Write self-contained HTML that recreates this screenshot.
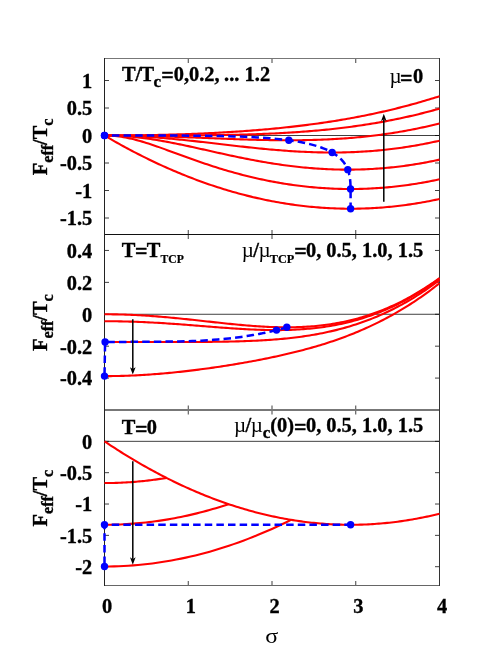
<!DOCTYPE html>
<html><head><meta charset="utf-8"><title>F_eff</title>
<style>html,body{margin:0;padding:0;background:#fff}svg{display:block;will-change:transform}text{font-family:"Liberation Serif",serif;fill:#000;font-kerning:none;font-variant-ligatures:none;white-space:pre}</style>
</head><body>
<svg width="491" height="659" viewBox="0 0 491 659">
<rect width="491" height="659" fill="#fff"/>
<line x1="104.50" y1="135.50" x2="439.50" y2="135.50" stroke="#000" stroke-width="0.75"/>
<line x1="104.50" y1="314.27" x2="439.50" y2="314.27" stroke="#000" stroke-width="0.75"/>
<line x1="104.50" y1="441.34" x2="439.50" y2="441.34" stroke="#000" stroke-width="0.75"/>
<path d="M188.25 58.50v4.50M188.25 234.50v-4.50M272.00 58.50v4.50M272.00 234.50v-4.50M355.75 58.50v4.50M355.75 234.50v-4.50M104.50 80.50h4.50M439.50 80.50h-4.50M104.50 108.00h4.50M439.50 108.00h-4.50M104.50 135.50h4.50M439.50 135.50h-4.50M104.50 163.00h4.50M439.50 163.00h-4.50M104.50 190.50h4.50M439.50 190.50h-4.50M104.50 218.00h4.50M439.50 218.00h-4.50M188.25 234.50v4.50M188.25 410.00v-4.50M272.00 234.50v4.50M272.00 410.00v-4.50M355.75 234.50v4.50M355.75 410.00v-4.50M104.50 250.45h4.50M439.50 250.45h-4.50M104.50 282.36h4.50M439.50 282.36h-4.50M104.50 314.27h4.50M439.50 314.27h-4.50M104.50 346.18h4.50M439.50 346.18h-4.50M104.50 378.09h4.50M439.50 378.09h-4.50M188.25 410.00v4.50M188.25 585.50v-4.50M272.00 410.00v4.50M272.00 585.50v-4.50M355.75 410.00v4.50M355.75 585.50v-4.50M104.50 441.34h4.50M439.50 441.34h-4.50M104.50 472.68h4.50M439.50 472.68h-4.50M104.50 504.02h4.50M439.50 504.02h-4.50M104.50 535.36h4.50M439.50 535.36h-4.50M104.50 566.70h4.50M439.50 566.70h-4.50" stroke="#000" stroke-width="0.75" fill="none"/>
<rect x="104" y="58" width="336" height="1" fill="#777"/>
<rect x="104" y="234" width="336" height="1" fill="#111"/>
<rect x="104" y="409" width="336" height="2" fill="#777"/>
<rect x="104" y="585" width="336" height="1" fill="#666"/>
<rect x="104" y="58" width="1" height="528" fill="#222"/>
<rect x="439" y="58" width="1" height="528" fill="#333"/>
<path d="M104.50 135.50 L106.59 136.73 L108.69 137.95 L110.78 139.17 L112.88 140.37 L114.97 141.56 L117.06 142.74 L119.16 143.91 L121.25 145.07 L123.34 146.22 L125.44 147.36 L127.53 148.49 L129.62 149.61 L131.72 150.71 L133.81 151.81 L135.91 152.90 L138.00 153.98 L140.09 155.04 L142.19 156.10 L144.28 157.15 L146.38 158.18 L148.47 159.21 L150.56 160.22 L152.66 161.23 L154.75 162.22 L156.84 163.20 L158.94 164.18 L161.03 165.14 L163.12 166.09 L165.22 167.04 L167.31 167.97 L169.41 168.89 L171.50 169.80 L173.59 170.70 L175.69 171.59 L177.78 172.47 L179.88 173.34 L181.97 174.20 L184.06 175.04 L186.16 175.88 L188.25 176.71 L190.34 177.53 L192.44 178.33 L194.53 179.13 L196.62 179.91 L198.72 180.69 L200.81 181.45 L202.91 182.21 L205.00 182.95 L207.09 183.68 L209.19 184.41 L211.28 185.12 L213.38 185.82 L215.47 186.51 L217.56 187.19 L219.66 187.86 L221.75 188.52 L223.84 189.17 L225.94 189.81 L228.03 190.43 L230.12 191.05 L232.22 191.66 L234.31 192.25 L236.41 192.84 L238.50 193.42 L240.59 193.98 L242.69 194.53 L244.78 195.08 L246.88 195.61 L248.97 196.13 L251.06 196.64 L253.16 197.15 L255.25 197.64 L257.34 198.12 L259.44 198.59 L261.53 199.04 L263.62 199.49 L265.72 199.93 L267.81 200.36 L269.91 200.77 L272.00 201.18 L274.09 201.57 L276.19 201.96 L278.28 202.33 L280.38 202.70 L282.47 203.05 L284.56 203.39 L286.66 203.72 L288.75 204.04 L290.84 204.35 L292.94 204.65 L295.03 204.94 L297.12 205.22 L299.22 205.49 L301.31 205.75 L303.41 205.99 L305.50 206.23 L307.59 206.45 L309.69 206.67 L311.78 206.87 L313.88 207.06 L315.97 207.25 L318.06 207.42 L320.16 207.58 L322.25 207.73 L324.34 207.87 L326.44 208.00 L328.53 208.12 L330.62 208.22 L332.72 208.32 L334.81 208.41 L336.91 208.48 L339.00 208.55 L341.09 208.60 L343.19 208.64 L345.28 208.68 L347.38 208.70 L349.47 208.71 L351.56 208.71 L353.66 208.70 L355.75 208.68 L357.84 208.65 L359.94 208.61 L362.03 208.55 L364.12 208.49 L366.22 208.41 L368.31 208.33 L370.41 208.23 L372.50 208.12 L374.59 208.01 L376.69 207.88 L378.78 207.74 L380.88 207.59 L382.97 207.43 L385.06 207.26 L387.16 207.07 L389.25 206.88 L391.34 206.68 L393.44 206.46 L395.53 206.24 L397.62 206.00 L399.72 205.75 L401.81 205.49 L403.91 205.23 L406.00 204.95 L408.09 204.66 L410.19 204.35 L412.28 204.04 L414.38 203.72 L416.47 203.39 L418.56 203.04 L420.66 202.69 L422.75 202.32 L424.84 201.94 L426.94 201.55 L429.03 201.16 L431.13 200.75 L433.22 200.33 L435.31 199.89 L437.41 199.45 L439.50 199.00" fill="none" stroke="#f00" stroke-width="2.10" stroke-linejoin="round"/>
<path d="M104.50 135.50 L106.59 135.52 L108.69 135.58 L110.78 135.69 L112.88 135.83 L114.97 136.01 L117.06 136.24 L119.16 136.50 L121.25 136.80 L123.34 137.13 L125.44 137.51 L127.53 137.92 L129.62 138.36 L131.72 138.83 L133.81 139.33 L135.91 139.86 L138.00 140.42 L140.09 141.01 L142.19 141.62 L144.28 142.25 L146.38 142.90 L148.47 143.57 L150.56 144.25 L152.66 144.95 L154.75 145.66 L156.84 146.39 L158.94 147.12 L161.03 147.87 L163.12 148.62 L165.22 149.38 L167.31 150.14 L169.41 150.90 L171.50 151.67 L173.59 152.44 L175.69 153.21 L177.78 153.98 L179.88 154.75 L181.97 155.51 L184.06 156.28 L186.16 157.04 L188.25 157.79 L190.34 158.55 L192.44 159.29 L194.53 160.03 L196.62 160.77 L198.72 161.50 L200.81 162.22 L202.91 162.94 L205.00 163.64 L207.09 164.34 L209.19 165.04 L211.28 165.72 L213.38 166.40 L215.47 167.07 L217.56 167.73 L219.66 168.38 L221.75 169.02 L223.84 169.65 L225.94 170.27 L228.03 170.89 L230.12 171.49 L232.22 172.09 L234.31 172.67 L236.41 173.25 L238.50 173.81 L240.59 174.37 L242.69 174.92 L244.78 175.45 L246.88 175.98 L248.97 176.50 L251.06 177.00 L253.16 177.50 L255.25 177.98 L257.34 178.46 L259.44 178.92 L261.53 179.38 L263.62 179.82 L265.72 180.26 L267.81 180.68 L269.91 181.10 L272.00 181.50 L274.09 181.89 L276.19 182.28 L278.28 182.65 L280.38 183.01 L282.47 183.36 L284.56 183.70 L286.66 184.03 L288.75 184.35 L290.84 184.66 L292.94 184.96 L295.03 185.25 L297.12 185.52 L299.22 185.79 L301.31 186.05 L303.41 186.29 L305.50 186.53 L307.59 186.75 L309.69 186.97 L311.78 187.17 L313.88 187.36 L315.97 187.54 L318.06 187.71 L320.16 187.88 L322.25 188.03 L324.34 188.16 L326.44 188.29 L328.53 188.41 L330.62 188.52 L332.72 188.62 L334.81 188.70 L336.91 188.78 L339.00 188.84 L341.09 188.89 L343.19 188.94 L345.28 188.97 L347.38 188.99 L349.47 189.00 L351.56 189.00 L353.66 188.99 L355.75 188.97 L357.84 188.94 L359.94 188.90 L362.03 188.84 L364.12 188.78 L366.22 188.70 L368.31 188.62 L370.41 188.52 L372.50 188.42 L374.59 188.30 L376.69 188.17 L378.78 188.03 L380.88 187.88 L382.97 187.72 L385.06 187.55 L387.16 187.36 L389.25 187.17 L391.34 186.97 L393.44 186.75 L395.53 186.53 L397.62 186.29 L399.72 186.04 L401.81 185.79 L403.91 185.52 L406.00 185.24 L408.09 184.95 L410.19 184.65 L412.28 184.33 L414.38 184.01 L416.47 183.68 L418.56 183.33 L420.66 182.98 L422.75 182.61 L424.84 182.23 L426.94 181.85 L429.03 181.45 L431.13 181.04 L433.22 180.62 L435.31 180.19 L437.41 179.74 L439.50 179.29" fill="none" stroke="#f00" stroke-width="2.10" stroke-linejoin="round"/>
<path d="M104.50 135.50 L106.59 135.51 L108.69 135.53 L110.78 135.57 L112.88 135.62 L114.97 135.69 L117.06 135.78 L119.16 135.88 L121.25 135.99 L123.34 136.12 L125.44 136.27 L127.53 136.43 L129.62 136.60 L131.72 136.79 L133.81 136.99 L135.91 137.21 L138.00 137.43 L140.09 137.68 L142.19 137.93 L144.28 138.20 L146.38 138.48 L148.47 138.78 L150.56 139.08 L152.66 139.40 L154.75 139.72 L156.84 140.06 L158.94 140.41 L161.03 140.77 L163.12 141.14 L165.22 141.52 L167.31 141.90 L169.41 142.30 L171.50 142.70 L173.59 143.11 L175.69 143.52 L177.78 143.95 L179.88 144.38 L181.97 144.81 L184.06 145.25 L186.16 145.70 L188.25 146.15 L190.34 146.60 L192.44 147.06 L194.53 147.52 L196.62 147.98 L198.72 148.44 L200.81 148.91 L202.91 149.38 L205.00 149.85 L207.09 150.32 L209.19 150.78 L211.28 151.25 L213.38 151.72 L215.47 152.19 L217.56 152.66 L219.66 153.12 L221.75 153.58 L223.84 154.04 L225.94 154.50 L228.03 154.95 L230.12 155.41 L232.22 155.85 L234.31 156.30 L236.41 156.74 L238.50 157.17 L240.59 157.60 L242.69 158.03 L244.78 158.45 L246.88 158.87 L248.97 159.28 L251.06 159.68 L253.16 160.08 L255.25 160.47 L257.34 160.85 L259.44 161.23 L261.53 161.61 L263.62 161.97 L265.72 162.33 L267.81 162.68 L269.91 163.03 L272.00 163.36 L274.09 163.69 L276.19 164.01 L278.28 164.32 L280.38 164.63 L282.47 164.93 L284.56 165.21 L286.66 165.49 L288.75 165.77 L290.84 166.03 L292.94 166.28 L295.03 166.53 L297.12 166.77 L299.22 167.00 L301.31 167.22 L303.41 167.43 L305.50 167.63 L307.59 167.82 L309.69 168.00 L311.78 168.17 L313.88 168.34 L315.97 168.49 L318.06 168.64 L320.16 168.77 L322.25 168.90 L324.34 169.01 L326.44 169.12 L328.53 169.22 L330.62 169.30 L332.72 169.38 L334.81 169.45 L336.91 169.51 L339.00 169.55 L341.09 169.59 L343.19 169.62 L345.28 169.63 L347.38 169.64 L349.47 169.64 L351.56 169.63 L353.66 169.60 L355.75 169.57 L357.84 169.52 L359.94 169.47 L362.03 169.41 L364.12 169.33 L366.22 169.25 L368.31 169.15 L370.41 169.05 L372.50 168.93 L374.59 168.80 L376.69 168.67 L378.78 168.52 L380.88 168.36 L382.97 168.19 L385.06 168.01 L387.16 167.82 L389.25 167.62 L391.34 167.41 L393.44 167.19 L395.53 166.96 L397.62 166.72 L399.72 166.47 L401.81 166.20 L403.91 165.93 L406.00 165.65 L408.09 165.35 L410.19 165.05 L412.28 164.73 L414.38 164.40 L416.47 164.07 L418.56 163.72 L420.66 163.36 L422.75 162.99 L424.84 162.61 L426.94 162.22 L429.03 161.82 L431.13 161.40 L433.22 160.98 L435.31 160.55 L437.41 160.10 L439.50 159.65" fill="none" stroke="#f00" stroke-width="2.10" stroke-linejoin="round"/>
<path d="M104.50 135.50 L106.59 135.50 L108.69 135.51 L110.78 135.53 L112.88 135.55 L114.97 135.59 L117.06 135.62 L119.16 135.67 L121.25 135.72 L123.34 135.78 L125.44 135.84 L127.53 135.91 L129.62 135.99 L131.72 136.07 L133.81 136.17 L135.91 136.26 L138.00 136.37 L140.09 136.48 L142.19 136.59 L144.28 136.71 L146.38 136.84 L148.47 136.97 L150.56 137.11 L152.66 137.26 L154.75 137.41 L156.84 137.57 L158.94 137.73 L161.03 137.89 L163.12 138.07 L165.22 138.24 L167.31 138.42 L169.41 138.61 L171.50 138.80 L173.59 138.99 L175.69 139.19 L177.78 139.40 L179.88 139.60 L181.97 139.81 L184.06 140.03 L186.16 140.24 L188.25 140.46 L190.34 140.69 L192.44 140.91 L194.53 141.14 L196.62 141.37 L198.72 141.60 L200.81 141.84 L202.91 142.08 L205.00 142.31 L207.09 142.55 L209.19 142.80 L211.28 143.04 L213.38 143.28 L215.47 143.52 L217.56 143.77 L219.66 144.01 L221.75 144.26 L223.84 144.50 L225.94 144.75 L228.03 144.99 L230.12 145.23 L232.22 145.47 L234.31 145.71 L236.41 145.95 L238.50 146.19 L240.59 146.42 L242.69 146.66 L244.78 146.89 L246.88 147.12 L248.97 147.35 L251.06 147.57 L253.16 147.79 L255.25 148.01 L257.34 148.22 L259.44 148.43 L261.53 148.64 L263.62 148.85 L265.72 149.05 L267.81 149.24 L269.91 149.43 L272.00 149.62 L274.09 149.80 L276.19 149.98 L278.28 150.16 L280.38 150.32 L282.47 150.49 L284.56 150.64 L286.66 150.80 L288.75 150.94 L290.84 151.08 L292.94 151.22 L295.03 151.35 L297.12 151.47 L299.22 151.59 L301.31 151.70 L303.41 151.80 L305.50 151.90 L307.59 151.99 L309.69 152.07 L311.78 152.15 L313.88 152.22 L315.97 152.28 L318.06 152.34 L320.16 152.38 L322.25 152.42 L324.34 152.46 L326.44 152.48 L328.53 152.50 L330.62 152.51 L332.72 152.51 L334.81 152.50 L336.91 152.49 L339.00 152.47 L341.09 152.44 L343.19 152.40 L345.28 152.35 L347.38 152.29 L349.47 152.23 L351.56 152.16 L353.66 152.08 L355.75 151.99 L357.84 151.89 L359.94 151.78 L362.03 151.66 L364.12 151.54 L366.22 151.40 L368.31 151.26 L370.41 151.11 L372.50 150.94 L374.59 150.77 L376.69 150.59 L378.78 150.40 L380.88 150.20 L382.97 150.00 L385.06 149.78 L387.16 149.55 L389.25 149.31 L391.34 149.07 L393.44 148.81 L395.53 148.55 L397.62 148.27 L399.72 147.99 L401.81 147.69 L403.91 147.39 L406.00 147.07 L408.09 146.75 L410.19 146.41 L412.28 146.07 L414.38 145.72 L416.47 145.35 L418.56 144.98 L420.66 144.59 L422.75 144.20 L424.84 143.80 L426.94 143.38 L429.03 142.96 L431.13 142.53 L433.22 142.08 L435.31 141.63 L437.41 141.16 L439.50 140.69" fill="none" stroke="#f00" stroke-width="2.10" stroke-linejoin="round"/>
<path d="M104.50 135.50 L106.59 135.50 L108.69 135.51 L110.78 135.51 L112.88 135.52 L114.97 135.53 L117.06 135.55 L119.16 135.56 L121.25 135.58 L123.34 135.60 L125.44 135.63 L127.53 135.65 L129.62 135.68 L131.72 135.72 L133.81 135.75 L135.91 135.79 L138.00 135.82 L140.09 135.86 L142.19 135.91 L144.28 135.95 L146.38 136.00 L148.47 136.05 L150.56 136.10 L152.66 136.16 L154.75 136.21 L156.84 136.27 L158.94 136.33 L161.03 136.39 L163.12 136.45 L165.22 136.52 L167.31 136.59 L169.41 136.65 L171.50 136.72 L173.59 136.80 L175.69 136.87 L177.78 136.94 L179.88 137.02 L181.97 137.09 L184.06 137.17 L186.16 137.25 L188.25 137.33 L190.34 137.41 L192.44 137.49 L194.53 137.57 L196.62 137.65 L198.72 137.74 L200.81 137.82 L202.91 137.90 L205.00 137.98 L207.09 138.07 L209.19 138.15 L211.28 138.24 L213.38 138.32 L215.47 138.40 L217.56 138.48 L219.66 138.57 L221.75 138.65 L223.84 138.73 L225.94 138.81 L228.03 138.89 L230.12 138.96 L232.22 139.04 L234.31 139.12 L236.41 139.19 L238.50 139.26 L240.59 139.33 L242.69 139.40 L244.78 139.47 L246.88 139.54 L248.97 139.60 L251.06 139.66 L253.16 139.72 L255.25 139.78 L257.34 139.83 L259.44 139.88 L261.53 139.93 L263.62 139.98 L265.72 140.02 L267.81 140.06 L269.91 140.09 L272.00 140.13 L274.09 140.16 L276.19 140.18 L278.28 140.20 L280.38 140.22 L282.47 140.24 L284.56 140.25 L286.66 140.25 L288.75 140.26 L290.84 140.26 L292.94 140.25 L295.03 140.24 L297.12 140.22 L299.22 140.20 L301.31 140.18 L303.41 140.15 L305.50 140.11 L307.59 140.07 L309.69 140.02 L311.78 139.97 L313.88 139.92 L315.97 139.85 L318.06 139.79 L320.16 139.71 L322.25 139.63 L324.34 139.55 L326.44 139.46 L328.53 139.36 L330.62 139.26 L332.72 139.15 L334.81 139.03 L336.91 138.91 L339.00 138.78 L341.09 138.64 L343.19 138.50 L345.28 138.35 L347.38 138.19 L349.47 138.03 L351.56 137.86 L353.66 137.68 L355.75 137.49 L357.84 137.30 L359.94 137.10 L362.03 136.90 L364.12 136.68 L366.22 136.46 L368.31 136.23 L370.41 135.99 L372.50 135.75 L374.59 135.49 L376.69 135.23 L378.78 134.96 L380.88 134.69 L382.97 134.40 L385.06 134.11 L387.16 133.81 L389.25 133.50 L391.34 133.18 L393.44 132.86 L395.53 132.52 L397.62 132.18 L399.72 131.83 L401.81 131.47 L403.91 131.10 L406.00 130.72 L408.09 130.34 L410.19 129.94 L412.28 129.54 L414.38 129.12 L416.47 128.70 L418.56 128.27 L420.66 127.83 L422.75 127.39 L424.84 126.93 L426.94 126.46 L429.03 125.99 L431.13 125.50 L433.22 125.01 L435.31 124.50 L437.41 123.99 L439.50 123.47" fill="none" stroke="#f00" stroke-width="2.10" stroke-linejoin="round"/>
<path d="M104.50 135.50 L106.59 135.50 L108.69 135.50 L110.78 135.50 L112.88 135.50 L114.97 135.50 L117.06 135.50 L119.16 135.50 L121.25 135.50 L123.34 135.50 L125.44 135.50 L127.53 135.50 L129.62 135.50 L131.72 135.50 L133.81 135.50 L135.91 135.50 L138.00 135.50 L140.09 135.50 L142.19 135.49 L144.28 135.49 L146.38 135.49 L148.47 135.49 L150.56 135.49 L152.66 135.49 L154.75 135.48 L156.84 135.48 L158.94 135.48 L161.03 135.47 L163.12 135.47 L165.22 135.47 L167.31 135.46 L169.41 135.45 L171.50 135.45 L173.59 135.44 L175.69 135.43 L177.78 135.43 L179.88 135.42 L181.97 135.41 L184.06 135.40 L186.16 135.39 L188.25 135.38 L190.34 135.36 L192.44 135.35 L194.53 135.33 L196.62 135.32 L198.72 135.30 L200.81 135.28 L202.91 135.26 L205.00 135.24 L207.09 135.22 L209.19 135.20 L211.28 135.17 L213.38 135.14 L215.47 135.12 L217.56 135.09 L219.66 135.05 L221.75 135.02 L223.84 134.99 L225.94 134.95 L228.03 134.91 L230.12 134.87 L232.22 134.83 L234.31 134.78 L236.41 134.74 L238.50 134.69 L240.59 134.64 L242.69 134.58 L244.78 134.52 L246.88 134.47 L248.97 134.40 L251.06 134.34 L253.16 134.27 L255.25 134.20 L257.34 134.13 L259.44 134.06 L261.53 133.98 L263.62 133.90 L265.72 133.81 L267.81 133.72 L269.91 133.63 L272.00 133.54 L274.09 133.44 L276.19 133.34 L278.28 133.23 L280.38 133.12 L282.47 133.01 L284.56 132.89 L286.66 132.77 L288.75 132.65 L290.84 132.52 L292.94 132.39 L295.03 132.25 L297.12 132.11 L299.22 131.96 L301.31 131.81 L303.41 131.66 L305.50 131.50 L307.59 131.34 L309.69 131.17 L311.78 130.99 L313.88 130.82 L315.97 130.63 L318.06 130.44 L320.16 130.25 L322.25 130.05 L324.34 129.85 L326.44 129.64 L328.53 129.43 L330.62 129.21 L332.72 128.98 L334.81 128.75 L336.91 128.51 L339.00 128.27 L341.09 128.02 L343.19 127.77 L345.28 127.51 L347.38 127.24 L349.47 126.97 L351.56 126.69 L353.66 126.41 L355.75 126.12 L357.84 125.82 L359.94 125.52 L362.03 125.21 L364.12 124.89 L366.22 124.57 L368.31 124.24 L370.41 123.90 L372.50 123.56 L374.59 123.21 L376.69 122.85 L378.78 122.48 L380.88 122.11 L382.97 121.73 L385.06 121.35 L387.16 120.96 L389.25 120.55 L391.34 120.15 L393.44 119.73 L395.53 119.31 L397.62 118.88 L399.72 118.44 L401.81 118.00 L403.91 117.55 L406.00 117.08 L408.09 116.62 L410.19 116.14 L412.28 115.66 L414.38 115.17 L416.47 114.67 L418.56 114.16 L420.66 113.64 L422.75 113.12 L424.84 112.59 L426.94 112.05 L429.03 111.50 L431.13 110.94 L433.22 110.37 L435.31 109.80 L437.41 109.22 L439.50 108.63" fill="none" stroke="#f00" stroke-width="2.10" stroke-linejoin="round"/>
<path d="M104.50 135.50 L106.59 135.50 L108.69 135.50 L110.78 135.49 L112.88 135.49 L114.97 135.48 L117.06 135.47 L119.16 135.46 L121.25 135.44 L123.34 135.43 L125.44 135.41 L127.53 135.40 L129.62 135.38 L131.72 135.35 L133.81 135.33 L135.91 135.31 L138.00 135.28 L140.09 135.25 L142.19 135.22 L144.28 135.19 L146.38 135.15 L148.47 135.12 L150.56 135.08 L152.66 135.04 L154.75 135.00 L156.84 134.95 L158.94 134.91 L161.03 134.86 L163.12 134.81 L165.22 134.76 L167.31 134.70 L169.41 134.65 L171.50 134.59 L173.59 134.53 L175.69 134.47 L177.78 134.40 L179.88 134.34 L181.97 134.27 L184.06 134.20 L186.16 134.12 L188.25 134.05 L190.34 133.97 L192.44 133.89 L194.53 133.81 L196.62 133.73 L198.72 133.64 L200.81 133.55 L202.91 133.46 L205.00 133.36 L207.09 133.27 L209.19 133.17 L211.28 133.07 L213.38 132.96 L215.47 132.85 L217.56 132.74 L219.66 132.63 L221.75 132.52 L223.84 132.40 L225.94 132.28 L228.03 132.15 L230.12 132.02 L232.22 131.89 L234.31 131.76 L236.41 131.63 L238.50 131.49 L240.59 131.34 L242.69 131.20 L244.78 131.05 L246.88 130.90 L248.97 130.74 L251.06 130.58 L253.16 130.42 L255.25 130.26 L257.34 130.09 L259.44 129.91 L261.53 129.74 L263.62 129.56 L265.72 129.38 L267.81 129.19 L269.91 129.00 L272.00 128.80 L274.09 128.60 L276.19 128.40 L278.28 128.19 L280.38 127.98 L282.47 127.77 L284.56 127.55 L286.66 127.33 L288.75 127.10 L290.84 126.87 L292.94 126.63 L295.03 126.39 L297.12 126.15 L299.22 125.90 L301.31 125.65 L303.41 125.39 L305.50 125.12 L307.59 124.86 L309.69 124.58 L311.78 124.31 L313.88 124.02 L315.97 123.74 L318.06 123.45 L320.16 123.15 L322.25 122.85 L324.34 122.54 L326.44 122.23 L328.53 121.91 L330.62 121.59 L332.72 121.26 L334.81 120.92 L336.91 120.59 L339.00 120.24 L341.09 119.89 L343.19 119.53 L345.28 119.17 L347.38 118.81 L349.47 118.43 L351.56 118.05 L353.66 117.67 L355.75 117.28 L357.84 116.88 L359.94 116.48 L362.03 116.07 L364.12 115.66 L366.22 115.24 L368.31 114.81 L370.41 114.37 L372.50 113.93 L374.59 113.49 L376.69 113.04 L378.78 112.58 L380.88 112.11 L382.97 111.64 L385.06 111.16 L387.16 110.67 L389.25 110.18 L391.34 109.68 L393.44 109.18 L395.53 108.66 L397.62 108.14 L399.72 107.62 L401.81 107.08 L403.91 106.54 L406.00 105.99 L408.09 105.44 L410.19 104.87 L412.28 104.30 L414.38 103.73 L416.47 103.14 L418.56 102.55 L420.66 101.95 L422.75 101.34 L424.84 100.73 L426.94 100.11 L429.03 99.48 L431.13 98.84 L433.22 98.20 L435.31 97.54 L437.41 96.88 L439.50 96.21" fill="none" stroke="#f00" stroke-width="2.10" stroke-linejoin="round"/>
<path d="M104.50 314.27 L106.59 314.28 L108.69 314.29 L110.78 314.31 L112.88 314.33 L114.97 314.36 L117.06 314.40 L119.16 314.45 L121.25 314.50 L123.34 314.56 L125.44 314.63 L127.53 314.70 L129.62 314.79 L131.72 314.87 L133.81 314.97 L135.91 315.07 L138.00 315.18 L140.09 315.29 L142.19 315.41 L144.28 315.54 L146.38 315.67 L148.47 315.81 L150.56 315.96 L152.66 316.11 L154.75 316.26 L156.84 316.42 L158.94 316.59 L161.03 316.76 L163.12 316.94 L165.22 317.12 L167.31 317.30 L169.41 317.50 L171.50 317.69 L173.59 317.89 L175.69 318.09 L177.78 318.30 L179.88 318.51 L181.97 318.72 L184.06 318.93 L186.16 319.15 L188.25 319.37 L190.34 319.59 L192.44 319.82 L194.53 320.05 L196.62 320.27 L198.72 320.50 L200.81 320.73 L202.91 320.97 L205.00 321.20 L207.09 321.43 L209.19 321.66 L211.28 321.89 L213.38 322.12 L215.47 322.35 L217.56 322.58 L219.66 322.81 L221.75 323.03 L223.84 323.25 L225.94 323.47 L228.03 323.69 L230.12 323.90 L232.22 324.11 L234.31 324.32 L236.41 324.52 L238.50 324.72 L240.59 324.92 L242.69 325.10 L244.78 325.29 L246.88 325.47 L248.97 325.64 L251.06 325.80 L253.16 325.96 L255.25 326.11 L257.34 326.26 L259.44 326.39 L261.53 326.52 L263.62 326.64 L265.72 326.75 L267.81 326.86 L269.91 326.95 L272.00 327.03 L274.09 327.11 L276.19 327.17 L278.28 327.22 L280.38 327.26 L282.47 327.29 L284.56 327.31 L286.66 327.32 L288.75 327.32 L290.84 327.30 L292.94 327.27 L295.03 327.22 L297.12 327.17 L299.22 327.10 L301.31 327.01 L303.41 326.91 L305.50 326.80 L307.59 326.67 L309.69 326.53 L311.78 326.37 L313.88 326.19 L315.97 326.00 L318.06 325.79 L320.16 325.57 L322.25 325.33 L324.34 325.07 L326.44 324.80 L328.53 324.50 L330.62 324.19 L332.72 323.86 L334.81 323.51 L336.91 323.15 L339.00 322.76 L341.09 322.36 L343.19 321.93 L345.28 321.49 L347.38 321.03 L349.47 320.54 L351.56 320.04 L353.66 319.51 L355.75 318.97 L357.84 318.40 L359.94 317.82 L362.03 317.21 L364.12 316.58 L366.22 315.92 L368.31 315.25 L370.41 314.55 L372.50 313.83 L374.59 313.09 L376.69 312.33 L378.78 311.54 L380.88 310.73 L382.97 309.90 L385.06 309.04 L387.16 308.16 L389.25 307.25 L391.34 306.32 L393.44 305.37 L395.53 304.39 L397.62 303.39 L399.72 302.37 L401.81 301.32 L403.91 300.24 L406.00 299.14 L408.09 298.01 L410.19 296.86 L412.28 295.68 L414.38 294.48 L416.47 293.25 L418.56 292.00 L420.66 290.72 L422.75 289.41 L424.84 288.08 L426.94 286.72 L429.03 285.34 L431.13 283.93 L433.22 282.49 L435.31 281.02 L437.41 279.53 L439.50 278.01" fill="none" stroke="#f00" stroke-width="2.10" stroke-linejoin="round"/>
<path d="M104.50 321.23 L106.59 321.23 L108.69 321.24 L110.78 321.25 L112.88 321.27 L114.97 321.29 L117.06 321.32 L119.16 321.36 L121.25 321.40 L123.34 321.44 L125.44 321.49 L127.53 321.54 L129.62 321.60 L131.72 321.67 L133.81 321.74 L135.91 321.81 L138.00 321.89 L140.09 321.97 L142.19 322.06 L144.28 322.15 L146.38 322.25 L148.47 322.35 L150.56 322.46 L152.66 322.57 L154.75 322.68 L156.84 322.80 L158.94 322.92 L161.03 323.05 L163.12 323.17 L165.22 323.31 L167.31 323.44 L169.41 323.58 L171.50 323.72 L173.59 323.87 L175.69 324.02 L177.78 324.17 L179.88 324.32 L181.97 324.48 L184.06 324.63 L186.16 324.79 L188.25 324.95 L190.34 325.11 L192.44 325.28 L194.53 325.44 L196.62 325.61 L198.72 325.77 L200.81 325.94 L202.91 326.11 L205.00 326.28 L207.09 326.44 L209.19 326.61 L211.28 326.77 L213.38 326.94 L215.47 327.10 L217.56 327.27 L219.66 327.43 L221.75 327.58 L223.84 327.74 L225.94 327.89 L228.03 328.05 L230.12 328.19 L232.22 328.34 L234.31 328.48 L236.41 328.62 L238.50 328.75 L240.59 328.88 L242.69 329.00 L244.78 329.12 L246.88 329.24 L248.97 329.34 L251.06 329.45 L253.16 329.54 L255.25 329.63 L257.34 329.71 L259.44 329.79 L261.53 329.86 L263.62 329.92 L265.72 329.97 L267.81 330.01 L269.91 330.04 L272.00 330.07 L274.09 330.09 L276.19 330.09 L278.28 330.09 L280.38 330.08 L282.47 330.05 L284.56 330.02 L286.66 329.97 L288.75 329.91 L290.84 329.84 L292.94 329.76 L295.03 329.67 L297.12 329.56 L299.22 329.44 L301.31 329.31 L303.41 329.16 L305.50 329.00 L307.59 328.82 L309.69 328.64 L311.78 328.43 L313.88 328.21 L315.97 327.98 L318.06 327.73 L320.16 327.46 L322.25 327.18 L324.34 326.88 L326.44 326.57 L328.53 326.23 L330.62 325.88 L332.72 325.52 L334.81 325.13 L336.91 324.73 L339.00 324.31 L341.09 323.87 L343.19 323.41 L345.28 322.93 L347.38 322.44 L349.47 321.92 L351.56 321.38 L353.66 320.83 L355.75 320.25 L357.84 319.66 L359.94 319.04 L362.03 318.40 L364.12 317.74 L366.22 317.06 L368.31 316.36 L370.41 315.64 L372.50 314.90 L374.59 314.13 L376.69 313.34 L378.78 312.53 L380.88 311.69 L382.97 310.84 L385.06 309.96 L387.16 309.05 L389.25 308.13 L391.34 307.18 L393.44 306.21 L395.53 305.21 L397.62 304.19 L399.72 303.14 L401.81 302.07 L403.91 300.98 L406.00 299.86 L408.09 298.71 L410.19 297.55 L412.28 296.35 L414.38 295.13 L416.47 293.89 L418.56 292.62 L420.66 291.32 L422.75 290.00 L424.84 288.66 L426.94 287.28 L429.03 285.88 L431.13 284.46 L433.22 283.01 L435.31 281.53 L437.41 280.02 L439.50 278.49" fill="none" stroke="#f00" stroke-width="2.10" stroke-linejoin="round"/>
<path d="M104.50 342.02 L106.59 342.02 L108.69 342.02 L110.78 342.02 L112.88 342.02 L114.97 342.02 L117.06 342.02 L119.16 342.02 L121.25 342.02 L123.34 342.02 L125.44 342.02 L127.53 342.02 L129.62 342.02 L131.72 342.02 L133.81 342.02 L135.91 342.02 L138.00 342.02 L140.09 342.02 L142.19 342.02 L144.28 342.02 L146.38 342.02 L148.47 342.02 L150.56 342.02 L152.66 342.02 L154.75 342.02 L156.84 342.02 L158.94 342.02 L161.03 342.02 L163.12 342.02 L165.22 342.02 L167.31 342.02 L169.41 342.01 L171.50 342.01 L173.59 342.01 L175.69 342.01 L177.78 342.00 L179.88 342.00 L181.97 341.99 L184.06 341.99 L186.16 341.98 L188.25 341.98 L190.34 341.97 L192.44 341.96 L194.53 341.95 L196.62 341.94 L198.72 341.93 L200.81 341.92 L202.91 341.90 L205.00 341.89 L207.09 341.87 L209.19 341.85 L211.28 341.83 L213.38 341.81 L215.47 341.78 L217.56 341.76 L219.66 341.73 L221.75 341.70 L223.84 341.66 L225.94 341.63 L228.03 341.59 L230.12 341.54 L232.22 341.50 L234.31 341.45 L236.41 341.39 L238.50 341.33 L240.59 341.27 L242.69 341.21 L244.78 341.14 L246.88 341.06 L248.97 340.98 L251.06 340.89 L253.16 340.80 L255.25 340.71 L257.34 340.61 L259.44 340.50 L261.53 340.38 L263.62 340.26 L265.72 340.13 L267.81 340.00 L269.91 339.86 L272.00 339.71 L274.09 339.55 L276.19 339.39 L278.28 339.21 L280.38 339.03 L282.47 338.84 L284.56 338.64 L286.66 338.43 L288.75 338.21 L290.84 337.98 L292.94 337.74 L295.03 337.49 L297.12 337.23 L299.22 336.96 L301.31 336.68 L303.41 336.38 L305.50 336.07 L307.59 335.76 L309.69 335.42 L311.78 335.08 L313.88 334.72 L315.97 334.35 L318.06 333.97 L320.16 333.57 L322.25 333.16 L324.34 332.74 L326.44 332.29 L328.53 331.84 L330.62 331.37 L332.72 330.88 L334.81 330.38 L336.91 329.86 L339.00 329.33 L341.09 328.78 L343.19 328.21 L345.28 327.63 L347.38 327.03 L349.47 326.41 L351.56 325.77 L353.66 325.12 L355.75 324.44 L357.84 323.75 L359.94 323.04 L362.03 322.31 L364.12 321.56 L366.22 320.80 L368.31 320.01 L370.41 319.20 L372.50 318.37 L374.59 317.53 L376.69 316.66 L378.78 315.77 L380.88 314.86 L382.97 313.93 L385.06 312.97 L387.16 312.00 L389.25 311.00 L391.34 309.98 L393.44 308.94 L395.53 307.88 L397.62 306.80 L399.72 305.69 L401.81 304.56 L403.91 303.40 L406.00 302.22 L408.09 301.02 L410.19 299.80 L412.28 298.55 L414.38 297.28 L416.47 295.98 L418.56 294.66 L420.66 293.32 L422.75 291.95 L424.84 290.55 L426.94 289.13 L429.03 287.69 L431.13 286.22 L433.22 284.72 L435.31 283.20 L437.41 281.65 L439.50 280.08" fill="none" stroke="#f00" stroke-width="2.10" stroke-linejoin="round"/>
<path d="M104.50 376.12 L106.59 376.12 L108.69 376.11 L110.78 376.09 L112.88 376.07 L114.97 376.04 L117.06 376.00 L119.16 375.95 L121.25 375.90 L123.34 375.84 L125.44 375.78 L127.53 375.70 L129.62 375.62 L131.72 375.54 L133.81 375.45 L135.91 375.35 L138.00 375.24 L140.09 375.13 L142.19 375.01 L144.28 374.88 L146.38 374.75 L148.47 374.61 L150.56 374.47 L152.66 374.32 L154.75 374.16 L156.84 374.00 L158.94 373.83 L161.03 373.66 L163.12 373.48 L165.22 373.29 L167.31 373.10 L169.41 372.91 L171.50 372.70 L173.59 372.50 L175.69 372.28 L177.78 372.06 L179.88 371.84 L181.97 371.61 L184.06 371.38 L186.16 371.14 L188.25 370.89 L190.34 370.65 L192.44 370.39 L194.53 370.13 L196.62 369.87 L198.72 369.60 L200.81 369.33 L202.91 369.05 L205.00 368.77 L207.09 368.48 L209.19 368.19 L211.28 367.90 L213.38 367.60 L215.47 367.29 L217.56 366.98 L219.66 366.67 L221.75 366.35 L223.84 366.03 L225.94 365.71 L228.03 365.38 L230.12 365.04 L232.22 364.70 L234.31 364.36 L236.41 364.01 L238.50 363.66 L240.59 363.30 L242.69 362.94 L244.78 362.57 L246.88 362.20 L248.97 361.82 L251.06 361.44 L253.16 361.05 L255.25 360.66 L257.34 360.26 L259.44 359.86 L261.53 359.45 L263.62 359.04 L265.72 358.62 L267.81 358.19 L269.91 357.76 L272.00 357.33 L274.09 356.88 L276.19 356.43 L278.28 355.98 L280.38 355.51 L282.47 355.04 L284.56 354.57 L286.66 354.08 L288.75 353.59 L290.84 353.09 L292.94 352.58 L295.03 352.07 L297.12 351.54 L299.22 351.01 L301.31 350.47 L303.41 349.92 L305.50 349.36 L307.59 348.79 L309.69 348.21 L311.78 347.63 L313.88 347.03 L315.97 346.42 L318.06 345.80 L320.16 345.17 L322.25 344.53 L324.34 343.88 L326.44 343.21 L328.53 342.54 L330.62 341.85 L332.72 341.15 L334.81 340.44 L336.91 339.71 L339.00 338.97 L341.09 338.22 L343.19 337.46 L345.28 336.68 L347.38 335.88 L349.47 335.08 L351.56 334.25 L353.66 333.42 L355.75 332.56 L357.84 331.70 L359.94 330.81 L362.03 329.91 L364.12 329.00 L366.22 328.07 L368.31 327.12 L370.41 326.15 L372.50 325.17 L374.59 324.17 L376.69 323.15 L378.78 322.11 L380.88 321.06 L382.97 319.99 L385.06 318.89 L387.16 317.78 L389.25 316.66 L391.34 315.51 L393.44 314.34 L395.53 313.15 L397.62 311.94 L399.72 310.71 L401.81 309.47 L403.91 308.20 L406.00 306.91 L408.09 305.59 L410.19 304.26 L412.28 302.91 L414.38 301.53 L416.47 300.13 L418.56 298.71 L420.66 297.27 L422.75 295.81 L424.84 294.32 L426.94 292.81 L429.03 291.28 L431.13 289.72 L433.22 288.14 L435.31 286.54 L437.41 284.91 L439.50 283.26" fill="none" stroke="#f00" stroke-width="2.10" stroke-linejoin="round"/>
<path d="M104.50 441.34 L106.59 442.74 L108.69 444.14 L110.78 445.52 L112.88 446.89 L114.97 448.24 L117.06 449.59 L119.16 450.92 L121.25 452.24 L123.34 453.56 L125.44 454.85 L127.53 456.14 L129.62 457.42 L131.72 458.68 L133.81 459.93 L135.91 461.17 L138.00 462.40 L140.09 463.61 L142.19 464.82 L144.28 466.01 L146.38 467.19 L148.47 468.36 L150.56 469.51 L152.66 470.66 L154.75 471.79 L156.84 472.91 L158.94 474.02 L161.03 475.12 L163.12 476.20 L165.22 477.28 L167.31 478.34 L169.41 479.39 L171.50 480.43 L173.59 481.45 L175.69 482.47 L177.78 483.47 L179.88 484.46 L181.97 485.44 L184.06 486.40 L186.16 487.36 L188.25 488.30 L190.34 489.23 L192.44 490.15 L194.53 491.06 L196.62 491.95 L198.72 492.84 L200.81 493.71 L202.91 494.57 L205.00 495.41 L207.09 496.25 L209.19 497.07 L211.28 497.88 L213.38 498.68 L215.47 499.47 L217.56 500.25 L219.66 501.01 L221.75 501.76 L223.84 502.50 L225.94 503.23 L228.03 503.94 L230.12 504.65 L232.22 505.34 L234.31 506.02 L236.41 506.68 L238.50 507.34 L240.59 507.98 L242.69 508.61 L244.78 509.23 L246.88 509.84 L248.97 510.44 L251.06 511.02 L253.16 511.59 L255.25 512.15 L257.34 512.70 L259.44 513.23 L261.53 513.75 L263.62 514.27 L265.72 514.76 L267.81 515.25 L269.91 515.73 L272.00 516.19 L274.09 516.64 L276.19 517.08 L278.28 517.50 L280.38 517.92 L282.47 518.32 L284.56 518.71 L286.66 519.09 L288.75 519.45 L290.84 519.81 L292.94 520.15 L295.03 520.48 L297.12 520.79 L299.22 521.10 L301.31 521.39 L303.41 521.67 L305.50 521.94 L307.59 522.20 L309.69 522.44 L311.78 522.67 L313.88 522.89 L315.97 523.10 L318.06 523.30 L320.16 523.48 L322.25 523.65 L324.34 523.81 L326.44 523.96 L328.53 524.09 L330.62 524.22 L332.72 524.33 L334.81 524.43 L336.91 524.51 L339.00 524.59 L341.09 524.65 L343.19 524.70 L345.28 524.73 L347.38 524.76 L349.47 524.77 L351.56 524.77 L353.66 524.76 L355.75 524.74 L357.84 524.70 L359.94 524.65 L362.03 524.59 L364.12 524.52 L366.22 524.43 L368.31 524.33 L370.41 524.22 L372.50 524.10 L374.59 523.97 L376.69 523.82 L378.78 523.66 L380.88 523.49 L382.97 523.31 L385.06 523.11 L387.16 522.91 L389.25 522.69 L391.34 522.45 L393.44 522.21 L395.53 521.95 L397.62 521.68 L399.72 521.40 L401.81 521.11 L403.91 520.80 L406.00 520.48 L408.09 520.15 L410.19 519.81 L412.28 519.45 L414.38 519.08 L416.47 518.70 L418.56 518.31 L420.66 517.90 L422.75 517.49 L424.84 517.06 L426.94 516.62 L429.03 516.16 L431.13 515.69 L433.22 515.22 L435.31 514.72 L437.41 514.22 L439.50 513.70" fill="none" stroke="#f00" stroke-width="2.10" stroke-linejoin="round"/>
<path d="M104.50 483.06 L106.09 483.05 L107.68 483.04 L109.27 483.03 L110.86 483.00 L112.44 482.97 L114.03 482.93 L115.62 482.89 L117.21 482.84 L118.80 482.78 L120.39 482.72 L121.98 482.65 L123.57 482.57 L125.15 482.48 L126.74 482.39 L128.33 482.29 L129.92 482.19 L131.51 482.08 L133.10 481.96 L134.69 481.83 L136.28 481.70 L137.86 481.56 L139.45 481.42 L141.04 481.27 L142.63 481.11 L144.22 480.94 L145.81 480.77 L147.40 480.59 L148.99 480.40 L150.57 480.21 L152.16 480.01 L153.75 479.80 L155.34 479.59 L156.93 479.37 L158.52 479.14 L160.11 478.91 L161.70 478.67 L163.28 478.42 L164.87 478.17 L166.46 477.91" fill="none" stroke="#f00" stroke-width="2.10" stroke-linejoin="round"/>
<path d="M104.50 524.77 L107.68 524.76 L110.86 524.72 L114.05 524.65 L117.23 524.56 L120.41 524.43 L123.59 524.28 L126.77 524.11 L129.95 523.90 L133.14 523.67 L136.32 523.42 L139.50 523.13 L142.68 522.82 L145.86 522.48 L149.05 522.11 L152.23 521.72 L155.41 521.30 L158.59 520.85 L161.77 520.38 L164.95 519.87 L168.14 519.34 L171.32 518.79 L174.50 518.20 L177.68 517.59 L180.86 516.96 L184.05 516.29 L187.23 515.60 L190.41 514.88 L193.59 514.13 L196.77 513.36 L199.95 512.56 L203.14 511.73 L206.32 510.88 L209.50 509.99 L212.68 509.09 L215.86 508.15 L219.05 507.19 L222.23 506.19 L225.41 505.18 L228.59 504.13" fill="none" stroke="#f00" stroke-width="2.10" stroke-linejoin="round"/>
<path d="M104.50 566.49 L109.28 566.46 L114.07 566.37 L118.85 566.21 L123.63 566.00 L128.42 565.72 L133.20 565.39 L137.98 564.99 L142.77 564.53 L147.55 564.01 L152.33 563.42 L157.12 562.78 L161.90 562.07 L166.68 561.31 L171.47 560.48 L176.25 559.59 L181.03 558.64 L185.82 557.63 L190.60 556.55 L195.38 555.42 L200.17 554.22 L204.95 552.96 L209.73 551.65 L214.52 550.27 L219.30 548.82 L224.08 547.32 L228.87 545.76 L233.65 544.13 L238.43 542.44 L243.22 540.70 L248.00 538.89 L252.78 537.02 L257.57 535.08 L262.35 533.09 L267.13 531.04 L271.92 528.92 L276.70 526.74 L281.48 524.50 L286.27 522.20 L291.05 519.84" fill="none" stroke="#f00" stroke-width="2.10" stroke-linejoin="round"/>
<path d="M350.60 208.71 L350.60 207.89 L350.60 207.07 L350.60 206.25 L350.60 205.43 L350.60 204.61 L350.60 203.78 L350.60 202.96 L350.60 202.14 L350.60 201.32 L350.60 200.50 L350.60 199.68 L350.60 198.86 L350.60 198.04 L350.60 197.22 L350.60 196.39 L350.60 195.57 L350.60 194.75 L350.60 193.93 L350.60 193.11 L350.60 192.29 L350.60 191.47 L350.60 190.65 L350.60 189.83 L350.56 189.00 L350.56 188.18 L350.56 187.36 L350.52 186.54 L350.52 185.73 L350.47 184.91 L350.43 184.09 L350.39 183.27 L350.35 182.46 L350.31 181.64 L350.22 180.83 L350.14 180.01 L350.06 179.20 L349.97 178.39 L349.85 177.58 L349.72 176.78 L349.55 175.97 L349.43 175.17 L349.22 174.37 L349.05 173.58 L348.84 172.78 L348.59 171.99 L348.34 171.21 L348.09 170.42 L347.79 169.64 L347.46 168.87 L347.12 168.09 L346.79 167.32 L346.37 166.56 L345.99 165.80 L345.53 165.05 L345.07 164.30 L344.57 163.55 L344.07 162.81 L343.52 162.08 L342.94 161.35 L342.31 160.63 L341.68 159.92 L340.97 159.21 L340.26 158.50 L339.50 157.81 L338.71 157.12 L337.91 156.44 L337.03 155.76 L336.15 155.10 L335.19 154.44 L334.23 153.79 L333.18 153.15 L332.13 152.51 L331.00 151.88 L329.83 151.27 L328.66 150.66 L327.40 150.06 L326.06 149.47 L324.72 148.89 L323.30 148.32 L321.83 147.76 L320.32 147.20 L318.73 146.66 L317.06 146.13 L315.38 145.61 L313.58 145.10 L311.74 144.60 L309.81 144.12 L307.85 143.64 L305.75 143.18 L303.62 142.72 L301.40 142.28 L299.05 141.85 L296.66 141.43 L294.15 141.03 L291.56 140.64 L288.83 140.26 L285.99 139.89 L283.06 139.54 L279.96 139.20 L276.73 138.87 L273.38 138.56 L269.86 138.26 L266.14 137.97 L262.28 137.70 L258.22 137.44 L253.91 137.20 L249.39 136.98 L244.57 136.77 L239.46 136.57 L234.02 136.39 L228.16 136.22 L221.88 136.08 L215.01 135.94 L207.51 135.83 L199.18 135.73 L189.80 135.65 L178.91 135.58 L165.72 135.54 L148.09 135.51 L104.50 135.50" fill="none" stroke="#00f" stroke-width="2.50" stroke-dasharray="7.5 4.13" stroke-dashoffset="1.2"/>
<path d="M286.82 327.32 L286.82 327.32 L286.82 327.32 L286.82 327.33 L286.78 327.34 L286.74 327.35 L286.70 327.36 L286.66 327.37 L286.61 327.39 L286.53 327.41 L286.49 327.43 L286.40 327.45 L286.32 327.47 L286.24 327.50 L286.11 327.53 L286.03 327.56 L285.90 327.59 L285.78 327.62 L285.65 327.66 L285.53 327.70 L285.36 327.74 L285.23 327.78 L285.06 327.83 L284.90 327.88 L284.69 327.93 L284.52 327.98 L284.31 328.04 L284.10 328.09 L283.89 328.15 L283.68 328.21 L283.43 328.28 L283.18 328.34 L282.93 328.41 L282.68 328.48 L282.43 328.56 L282.13 328.63 L281.84 328.71 L281.55 328.79 L281.21 328.88 L280.92 328.96 L280.58 329.05 L280.21 329.15 L279.87 329.24 L279.50 329.34 L279.12 329.44 L278.70 329.54 L278.32 329.64 L277.90 329.75 L277.44 329.86 L276.98 329.98 L276.52 330.09 L276.06 330.21 L275.56 330.34 L275.06 330.46 L274.51 330.59 L273.97 330.72 L273.38 330.86 L272.80 331.00 L272.21 331.14 L271.58 331.29 L270.95 331.44 L270.28 331.59 L269.57 331.75 L268.86 331.91 L268.15 332.07 L267.35 332.24 L266.56 332.41 L265.76 332.59 L264.88 332.77 L264.00 332.95 L263.08 333.14 L262.16 333.34 L261.15 333.53 L260.11 333.74 L259.06 333.95 L257.93 334.16 L256.76 334.38 L255.54 334.60 L254.25 334.83 L252.91 335.07 L251.48 335.31 L250.02 335.55 L248.42 335.81 L246.79 336.07 L245.03 336.33 L243.19 336.61 L241.22 336.89 L239.09 337.18 L236.83 337.48 L234.40 337.78 L231.72 338.10 L228.83 338.43 L225.64 338.76 L222.09 339.11 L218.06 339.47 L213.42 339.84 L207.93 340.23 L201.19 340.64 L192.35 341.07 L178.83 341.53 L105.09 342.02 L104.50 376.12" fill="none" stroke="#00f" stroke-width="2.50" stroke-dasharray="7.5 4.13" stroke-dashoffset="1.2"/>
<path d="M350.60 524.77 L104.50 524.77 L104.50 566.49" fill="none" stroke="#00f" stroke-width="2.50" stroke-dasharray="7.5 4.13" stroke-dashoffset="1.2"/>
<circle cx="350.60" cy="208.71" r="3.70" fill="#00f"/>
<circle cx="350.56" cy="189.00" r="3.70" fill="#00f"/>
<circle cx="347.79" cy="169.64" r="3.70" fill="#00f"/>
<circle cx="332.13" cy="152.51" r="3.70" fill="#00f"/>
<circle cx="288.83" cy="140.26" r="3.70" fill="#00f"/>
<circle cx="104.50" cy="135.50" r="3.70" fill="#00f"/>
<circle cx="104.50" cy="135.50" r="3.70" fill="#00f"/>
<circle cx="286.82" cy="327.32" r="3.70" fill="#00f"/>
<circle cx="276.52" cy="330.09" r="3.70" fill="#00f"/>
<circle cx="105.09" cy="342.02" r="3.70" fill="#00f"/>
<circle cx="104.50" cy="376.12" r="3.70" fill="#00f"/>
<circle cx="350.60" cy="524.77" r="3.70" fill="#00f"/>
<circle cx="104.50" cy="524.77" r="3.70" fill="#00f"/>
<circle cx="104.50" cy="566.49" r="3.70" fill="#00f"/>
<path d="M383.80 201.70V119.30" stroke="#000" stroke-width="1.5" fill="none"/>
<path d="M383.80 113.80 L381.00 121.20 L383.80 119.30 L386.60 121.20 Z" fill="#000"/>
<path d="M132.80 319.30V369.10" stroke="#000" stroke-width="1.5" fill="none"/>
<path d="M132.80 374.60 L130.00 367.20 L132.80 369.10 L135.60 367.20 Z" fill="#000"/>
<path d="M132.80 461.30V559.20" stroke="#000" stroke-width="1.5" fill="none"/>
<path d="M132.80 564.70 L130.00 557.30 L132.80 559.20 L135.60 557.30 Z" fill="#000"/>
<text x="92.2" y="87.85" text-anchor="end" font-weight="bold" font-size="20.40" stroke="#000" stroke-width="0.35">1</text>
<text x="92.2" y="115.35" text-anchor="end" font-weight="bold" font-size="20.40" stroke="#000" stroke-width="0.35">0.5</text>
<text x="92.2" y="142.85" text-anchor="end" font-weight="bold" font-size="20.40" stroke="#000" stroke-width="0.35">0</text>
<text x="92.2" y="170.35" text-anchor="end" font-weight="bold" font-size="20.40" stroke="#000" stroke-width="0.35">-0.5</text>
<text x="92.2" y="197.85" text-anchor="end" font-weight="bold" font-size="20.40" stroke="#000" stroke-width="0.35">-1</text>
<text x="92.2" y="225.35" text-anchor="end" font-weight="bold" font-size="20.40" stroke="#000" stroke-width="0.35">-1.5</text>
<text x="92.2" y="257.80" text-anchor="end" font-weight="bold" font-size="20.40" stroke="#000" stroke-width="0.35">0.4</text>
<text x="92.2" y="289.71" text-anchor="end" font-weight="bold" font-size="20.40" stroke="#000" stroke-width="0.35">0.2</text>
<text x="92.2" y="321.62" text-anchor="end" font-weight="bold" font-size="20.40" stroke="#000" stroke-width="0.35">0</text>
<text x="92.2" y="353.53" text-anchor="end" font-weight="bold" font-size="20.40" stroke="#000" stroke-width="0.35">-0.2</text>
<text x="92.2" y="385.44" text-anchor="end" font-weight="bold" font-size="20.40" stroke="#000" stroke-width="0.35">-0.4</text>
<text x="92.2" y="448.69" text-anchor="end" font-weight="bold" font-size="20.40" stroke="#000" stroke-width="0.35">0</text>
<text x="92.2" y="480.03" text-anchor="end" font-weight="bold" font-size="20.40" stroke="#000" stroke-width="0.35">-0.5</text>
<text x="92.2" y="511.37" text-anchor="end" font-weight="bold" font-size="20.40" stroke="#000" stroke-width="0.35">-1</text>
<text x="92.2" y="542.71" text-anchor="end" font-weight="bold" font-size="20.40" stroke="#000" stroke-width="0.35">-1.5</text>
<text x="92.2" y="574.05" text-anchor="end" font-weight="bold" font-size="20.40" stroke="#000" stroke-width="0.35">-2</text>
<text x="107.10" y="612.6" text-anchor="middle" font-weight="bold" font-size="20.40" stroke="#000" stroke-width="0.35">0</text>
<text x="190.85" y="612.6" text-anchor="middle" font-weight="bold" font-size="20.40" stroke="#000" stroke-width="0.35">1</text>
<text x="274.60" y="612.6" text-anchor="middle" font-weight="bold" font-size="20.40" stroke="#000" stroke-width="0.35">2</text>
<text x="358.35" y="612.6" text-anchor="middle" font-weight="bold" font-size="20.40" stroke="#000" stroke-width="0.35">3</text>
<text x="442.10" y="612.6" text-anchor="middle" font-weight="bold" font-size="20.40" stroke="#000" stroke-width="0.35">4</text>
<text transform="translate(271.8 643.1) scale(1.14 1)" text-anchor="middle" font-size="21.01">σ</text>
<text transform="translate(47.2 146.60) rotate(-90)" font-weight="bold" font-size="20.40" stroke="#000" stroke-width="0.35"><tspan x="-28.7">F</tspan><tspan font-size="16.32" dy="5.6">eff</tspan><tspan dy="-5.6" dx="-0.3">/T</tspan><tspan font-size="16.32" dy="5.6">c</tspan></text>
<text transform="translate(47.2 322.35) rotate(-90)" font-weight="bold" font-size="20.40" stroke="#000" stroke-width="0.35"><tspan x="-28.7">F</tspan><tspan font-size="16.32" dy="5.6">eff</tspan><tspan dy="-5.6" dx="-0.3">/T</tspan><tspan font-size="16.32" dy="5.6">c</tspan></text>
<text transform="translate(47.2 497.85) rotate(-90)" font-weight="bold" font-size="20.40" stroke="#000" stroke-width="0.35"><tspan x="-28.7">F</tspan><tspan font-size="16.32" dy="5.6">eff</tspan><tspan dy="-5.6" dx="-0.3">/T</tspan><tspan font-size="16.32" dy="5.6">c</tspan></text>
<text y="81.00" font-weight="bold" font-size="20.40" stroke="#000" stroke-width="0.35"><tspan x="122.00">T/</tspan><tspan x="140.40">T</tspan><tspan x="153.40" dy="5.60" font-size="17.00">c</tspan><tspan x="161.20" dy="-3.40" font-size="22.03">=</tspan><tspan x="173.70" dy="-2.20">0,0.2,</tspan><tspan x="224.10">...</tspan><tspan x="270.10" text-anchor="end">1.2</tspan></text>
<text y="82.90" font-weight="bold" font-size="20.40" stroke="#000" stroke-width="0.35"><tspan x="389.40" font-size="21.01" font-weight="normal" stroke="none">µ</tspan><tspan x="399.90" dy="2.60" font-size="22.03">=</tspan><tspan x="423.20" dy="-2.60" text-anchor="end">0</tspan></text>
<text y="256.90" font-weight="bold" font-size="20.40" stroke="#000" stroke-width="0.35"><tspan x="121.80">T</tspan><tspan x="134.90" dy="2.20" font-size="22.03">=</tspan><tspan x="146.70" dy="-2.20">T</tspan><tspan x="160.60" dy="6.20" font-size="11.63" stroke-width="0.2">TCP</tspan></text>
<text y="257.00" font-weight="bold" font-size="20.40" stroke="#000" stroke-width="0.35"><tspan x="241.70" font-size="21.01" font-weight="normal" stroke="none">µ</tspan><tspan x="253.20">/</tspan><tspan x="258.60" font-size="21.01" font-weight="normal" stroke="none">µ</tspan><tspan x="269.80" dy="6.20" font-size="12.24" stroke-width="0.2">TCP</tspan><tspan x="294.30" dy="-4.00" font-size="22.03">=</tspan><tspan x="423.20" dy="-2.20" text-anchor="end">0, 0.5, 1.0, 1.5</tspan></text>
<text y="434.40" font-weight="bold" font-size="20.40" stroke="#000" stroke-width="0.35"><tspan x="121.80">T</tspan><tspan x="134.90" dy="2.20" font-size="22.03">=</tspan><tspan x="146.70" dy="-2.20">0</tspan></text>
<text y="432.30" font-weight="bold" font-size="20.40" stroke="#000" stroke-width="0.35"><tspan x="234.10" font-size="21.01" font-weight="normal" stroke="none">µ</tspan><tspan x="245.40">/</tspan><tspan x="250.80" font-size="21.01" font-weight="normal" stroke="none">µ</tspan><tspan x="262.80" dy="5.60" font-size="17.00">c</tspan><tspan x="270.20" dy="-5.60">(0)</tspan><tspan x="294.10" dy="2.20" font-size="22.03">=</tspan><tspan x="423.20" dy="-2.20" text-anchor="end">0, 0.5, 1.0, 1.5</tspan></text>
</svg>
</body></html>
